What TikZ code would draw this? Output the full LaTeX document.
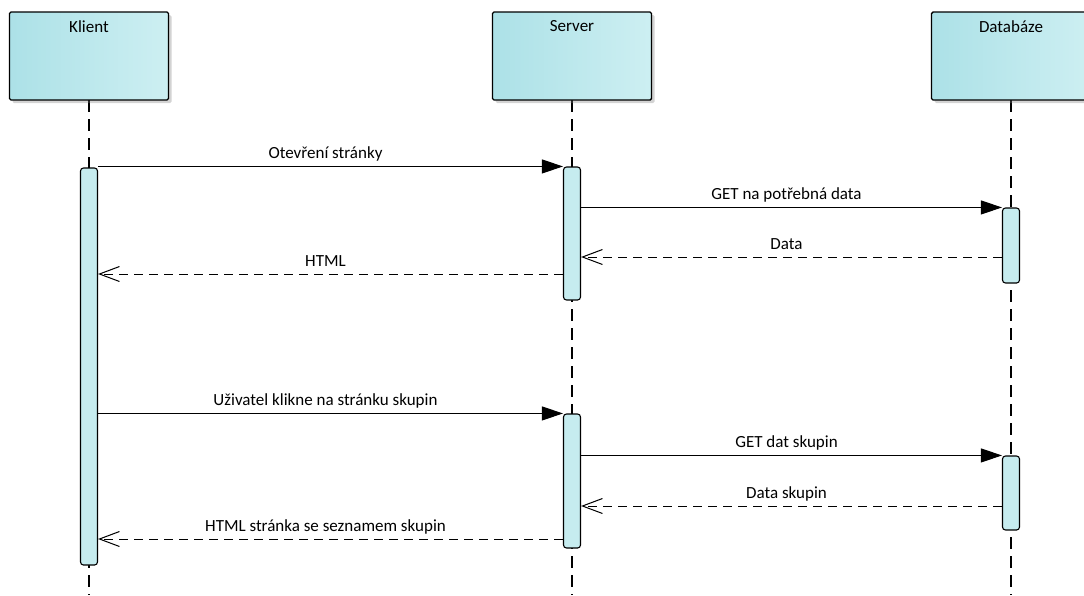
\documentclass[tikz,border=0pt]{standalone}
\usepackage{fontspec}
\setmainfont{Carlito}
\usetikzlibrary{arrows.meta}
\usetikzlibrary{shadows}

\definecolor{headl}{HTML}{ACE1E7}
\definecolor{headr}{HTML}{CDEFF2}
\definecolor{barfill}{HTML}{C6ECEF}

\tikzset{
  head/.style={draw, line width=1.4pt, rounded corners=1.5pt,
    minimum width=159pt, minimum height=88pt, left color=headl, right color=headr,
    drop shadow={shadow xshift=3pt, shadow yshift=-3pt, opacity=.35}},
  headtxt/.style={anchor=north, yshift=-6pt},
  life/.style={line width=1.1pt, dash pattern=on 12pt off 7pt},
  bar/.style={draw, line width=1.1pt, rounded corners=3pt, fill=barfill,
    minimum width=17pt, inner sep=0pt},
  call/.style={line width=1pt, -{Triangle[length=21pt,width=14pt]}},
  reply/.style={line width=1pt, dash pattern=on 9pt off 6pt,
    -{Straight Barb[length=20pt,width=15pt,sharp]}},
  lbl/.style={midway, above=2pt, xshift=-5pt, inner sep=2pt, text depth=3.5pt}
}

\begin{document}
\begin{tikzpicture}[x=1pt, y=-1pt, font=\fontsize{17}{20}\selectfont]
\clip (0,0) rectangle (1084,595);

% lifelines first, boxes and bars go on top
\coordinate (klend) at (89,595);
\coordinate (srvend) at (572,595);
\coordinate (dbend) at (1011,595);
\draw[life] (89,100) -- (klend);
\draw[life] (572,100) -- (srvend);
\draw[life] (1011,100) -- (dbend);

\node[head, label={[headtxt]north:Klient}] (kl) at (89,56) {};
\node[head, label={[headtxt]north:Server}] (srv) at (572,56) {};
\node[head, label={[headtxt]north:Databáze}] (db) at (1011,56) {};

% activation bars
\node[bar, minimum height=397pt] (ka) at (89,366.5) {};
\node[bar, minimum height=133pt] (sa) at (572,233.5) {};
\node[bar, minimum height=134pt] (sb) at (572,481) {};
\node[bar, minimum height=75pt] (da) at (1011,245.5) {};
\node[bar, minimum height=74pt] (dbb) at (1011,493) {};

% first page load
\draw[call] (ka.east |- sa.north) -- node[lbl] {Otevření stránky} (sa.north west);
\draw[call] (sa.east |- da.north) -- node[lbl] {GET na potřebná data} (da.north west);
\draw[reply] (da.west |- 0,257) -- node[lbl] {Data} (sa.east |- 0,257);
\draw[reply] (sa.west |- 0,274) -- node[lbl] {HTML} (ka.east |- 0,274);

% groups page
\draw[call] (ka.east |- sb.north) -- node[lbl] {Uživatel klikne na stránku skupin} (sb.north west);
\draw[call] (sb.east |- dbb.north) -- node[lbl] {GET dat skupin} (dbb.north west);
\draw[reply] (dbb.west |- 0,506) -- node[lbl] {Data skupin} (sb.east |- 0,506);
\draw[reply] (sb.west |- 0,539) -- node[lbl] {HTML stránka se seznamem skupin} (ka.east |- 0,539);
\end{tikzpicture}
\end{document}
